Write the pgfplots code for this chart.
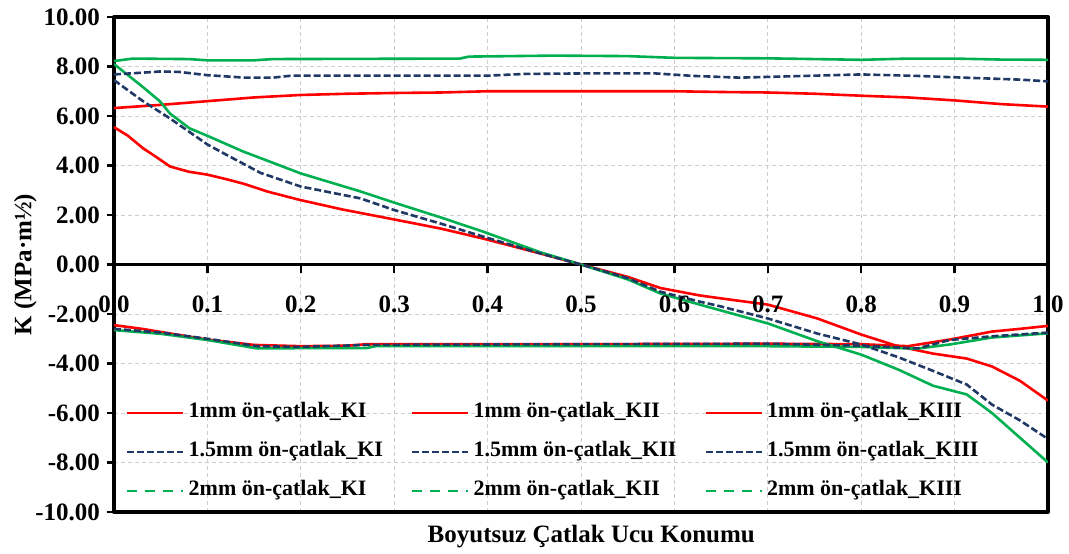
\documentclass[border=0pt]{standalone}
\usepackage{pgfplots}
\pgfplotsset{compat=1.18}
\usepackage{fontspec}
\setmainfont{Liberation Serif}
\definecolor{kred}{RGB}{255,0,0}
\definecolor{knavy}{RGB}{31,56,100}
\definecolor{kgreen}{RGB}{0,176,80}
\definecolor{gridgray}{RGB}{205,205,205}

\pgfplotstableread{
x y
0 6.32
0.05 6.45
0.1 6.6
0.15 6.75
0.2 6.85
0.25 6.9
0.3 6.93
0.35 6.95
0.4 7.0
0.5 7.0
0.6 7.0
0.65 6.97
0.7 6.95
0.75 6.9
0.8 6.82
0.85 6.75
0.9 6.63
0.95 6.48
1.0 6.38
}\aKI
\pgfplotstableread{
x y
0 5.55
0.015 5.2
0.031 4.7
0.045 4.35
0.06 3.96
0.08 3.75
0.1 3.63
0.12 3.45
0.14 3.25
0.164 2.95
0.2 2.6
0.245 2.22
0.3 1.82
0.35 1.45
0.395 1.05
0.456 0.45
0.5 0.0
0.55 -0.5
0.585 -0.95
0.627 -1.25
0.66 -1.42
0.7 -1.62
0.753 -2.18
0.8 -2.83
0.84 -3.31
0.877 -3.6
0.913 -3.8
0.94 -4.12
0.97 -4.7
1.0 -5.5
}\aKII
\pgfplotstableread{
x y
0 -2.45
0.03 -2.6
0.067 -2.83
0.1 -3.03
0.15 -3.25
0.2 -3.3
0.25 -3.28
0.27 -3.22
0.5 -3.22
0.7 -3.2
0.8 -3.22
0.85 -3.3
0.895 -3.03
0.94 -2.71
0.97 -2.6
1.0 -2.48
}\aKIII
\pgfplotstableread{
x y
0 7.68
0.03 7.75
0.05 7.8
0.07 7.78
0.1 7.65
0.14 7.55
0.17 7.55
0.19 7.63
0.4 7.63
0.44 7.7
0.5 7.72
0.58 7.72
0.62 7.62
0.67 7.55
0.72 7.6
0.8 7.68
0.86 7.62
0.91 7.55
0.97 7.47
1.0 7.4
}\bKI
\pgfplotstableread{
x y
0 7.45
0.031 6.6
0.06 5.9
0.1 4.85
0.12 4.44
0.157 3.7
0.2 3.15
0.264 2.67
0.3 2.2
0.35 1.65
0.395 1.13
0.456 0.45
0.5 0
0.55 -0.55
0.585 -1.1
0.627 -1.5
0.645 -1.65
0.7 -2.18
0.753 -2.79
0.8 -3.23
0.84 -3.75
0.877 -4.3
0.913 -4.85
0.94 -5.66
0.97 -6.3
1.0 -7.05
}\bKII
\pgfplotstableread{
x y
0 -2.6
0.05 -2.75
0.1 -3.0
0.153 -3.3
0.2 -3.33
0.27 -3.25
0.5 -3.22
0.7 -3.2
0.8 -3.28
0.86 -3.39
0.895 -3.05
0.94 -2.9
1.0 -2.75
}\bKIII
\pgfplotstableread{
x y
0 8.22
0.02 8.32
0.08 8.3
0.1 8.25
0.15 8.25
0.17 8.3
0.37 8.32
0.38 8.4
0.47 8.44
0.55 8.42
0.6 8.35
0.7 8.33
0.75 8.3
0.8 8.27
0.85 8.32
0.9 8.32
0.95 8.28
1.0 8.27
}\cKI
\pgfplotstableread{
x y
0 8.1
0.03 7.2
0.049 6.6
0.06 6.1
0.081 5.5
0.1 5.2
0.138 4.57
0.2 3.68
0.264 2.95
0.3 2.5
0.35 1.9
0.395 1.33
0.456 0.5
0.5 0
0.55 -0.6
0.585 -1.17
0.627 -1.62
0.7 -2.38
0.753 -3.1
0.8 -3.64
0.84 -4.25
0.877 -4.9
0.913 -5.25
0.94 -6.0
0.97 -7.0
1.0 -8.0
}\cKII
\pgfplotstableread{
x y
0 -2.65
0.05 -2.8
0.1 -3.05
0.153 -3.39
0.2 -3.38
0.27 -3.38
0.28 -3.3
0.5 -3.3
0.7 -3.3
0.8 -3.33
0.86 -3.4
0.895 -3.23
0.94 -2.95
1.0 -2.78
}\cKIII

\begin{document}
\begin{tikzpicture}
\useasboundingbox (-57pt,-20.5pt) rectangle (477.5pt,256pt);
\begin{axis}[
  scale only axis, width=467pt, height=247.5pt,
  xmin=0, xmax=1, ymin=-10, ymax=10,
  xtick={0,0.1,0.2,0.3,0.4,0.5,0.6,0.7,0.8,0.9,1},
  xticklabels={},
  ytick={-10,-8,-6,-4,-2,0,2,4,6,8,10},
  yticklabels={-10.00,-8.00,-6.00,-4.00,-2.00,0.00,2.00,4.00,6.00,8.00,10.00},
  grid=major,
  major grid style={gridgray, dash pattern=on 2pt off 1.5pt, line width=0.5pt},
  axis line style={line width=2pt, black},
  xtick style={draw=none},
  ytick pos=left, tick align=outside, major tick length=3.5pt,
  ytick style={line width=1.2pt, black},
  extra y ticks={0}, extra y tick labels={},
  extra y tick style={major grid style={black, solid, line width=1.8pt}},
  tick label style={font=\fontsize{12.5}{14}\selectfont\bfseries},
  label style={font=\fontsize{12.5}{14}\selectfont\bfseries},
  xlabel={Boyutsuz Çatlak Ucu Konumu},
  ylabel={K (MPa·m½)},
  xlabel style={at={(axis description cs:0.511,0)}, anchor=center, yshift=-12.5pt},
  ylabel style={at={(axis description cs:-0.095,0.5)}, anchor=center},
  legend columns=3,
  legend style={font=\fontsize{11}{13}\selectfont\bfseries, draw=none, fill=none,
    at={(rel axis cs:0.0125,0.2273)}, anchor=north west, inner sep=0pt,
    nodes={text height=8pt, text depth=3pt, inner sep=1pt},
    row sep=6.5pt,
    /tikz/every odd column/.append style={column sep=1pt},
    /tikz/every even column/.append style={column sep=13pt}},
  legend cell align=left,
  legend image code/.code={\draw[#1] (0pt,0pt) -- (28pt,0pt);},
  line join=round,
]
\addplot[kred, line width=1.3pt, forget plot] table {\aKI};
\addplot[kred, line width=1.3pt, forget plot] table {\aKII};
\addplot[kred, line width=1.3pt, forget plot] table {\aKIII};
\addplot[kgreen, line width=1.3pt, forget plot] table {\cKI};
\addplot[kgreen, line width=1.3pt, forget plot] table {\cKII};
\addplot[kgreen, line width=1.3pt, forget plot] table {\cKIII};
\addplot[knavy, line width=1.3pt, dash pattern=on 3.5pt off 1.5pt, forget plot] table {\bKI};
\addplot[knavy, line width=1.3pt, dash pattern=on 3.5pt off 1.5pt, forget plot] table {\bKII};
\addplot[knavy, line width=1.3pt, dash pattern=on 3.5pt off 1.5pt, forget plot] table {\bKIII};
\addlegendimage{kred, line width=1.3pt}
\addlegendentry{1mm ön-çatlak\_KI}
\addlegendimage{kred, line width=1.3pt}
\addlegendentry{1mm ön-çatlak\_KII}
\addlegendimage{kred, line width=1.3pt}
\addlegendentry{1mm ön-çatlak\_KIII}
\addlegendimage{knavy, line width=1.3pt, dash pattern=on 3.5pt off 1.5pt}
\addlegendentry{1.5mm ön-çatlak\_KI}
\addlegendimage{knavy, line width=1.3pt, dash pattern=on 3.5pt off 1.5pt}
\addlegendentry{1.5mm ön-çatlak\_KII}
\addlegendimage{knavy, line width=1.3pt, dash pattern=on 3.5pt off 1.5pt}
\addlegendentry{1.5mm ön-çatlak\_KIII}
\addlegendimage{kgreen, line width=1.3pt, dash pattern=on 5pt off 4pt}
\addlegendentry{2mm ön-çatlak\_KI}
\addlegendimage{kgreen, line width=1.3pt, dash pattern=on 5pt off 4pt}
\addlegendentry{2mm ön-çatlak\_KII}
\addlegendimage{kgreen, line width=1.3pt, dash pattern=on 5pt off 4pt}
\addlegendentry{2mm ön-çatlak\_KIII}
\end{axis}
\begin{axis}[
  scale only axis, width=467pt, height=247.5pt,
  xmin=0, xmax=1, ymin=-10, ymax=10,
  axis x line=middle, axis y line=none,
  axis line style={draw=none},
  hide obscured x ticks=false,
  xtick={0,0.1,0.2,0.3,0.4,0.5,0.6,0.7,0.8,0.9,1},
  xticklabels={0.0,0.1,0.2,0.3,0.4,0.5,0.6,0.7,0.8,0.9,1.0},
  tick align=outside, major tick length=4pt,
  xtick style={line width=1.2pt, black},
  xticklabel style={font=\fontsize{12.5}{14}\selectfont\bfseries, yshift=-8pt},
]
\end{axis}
\end{tikzpicture}
\end{document}
